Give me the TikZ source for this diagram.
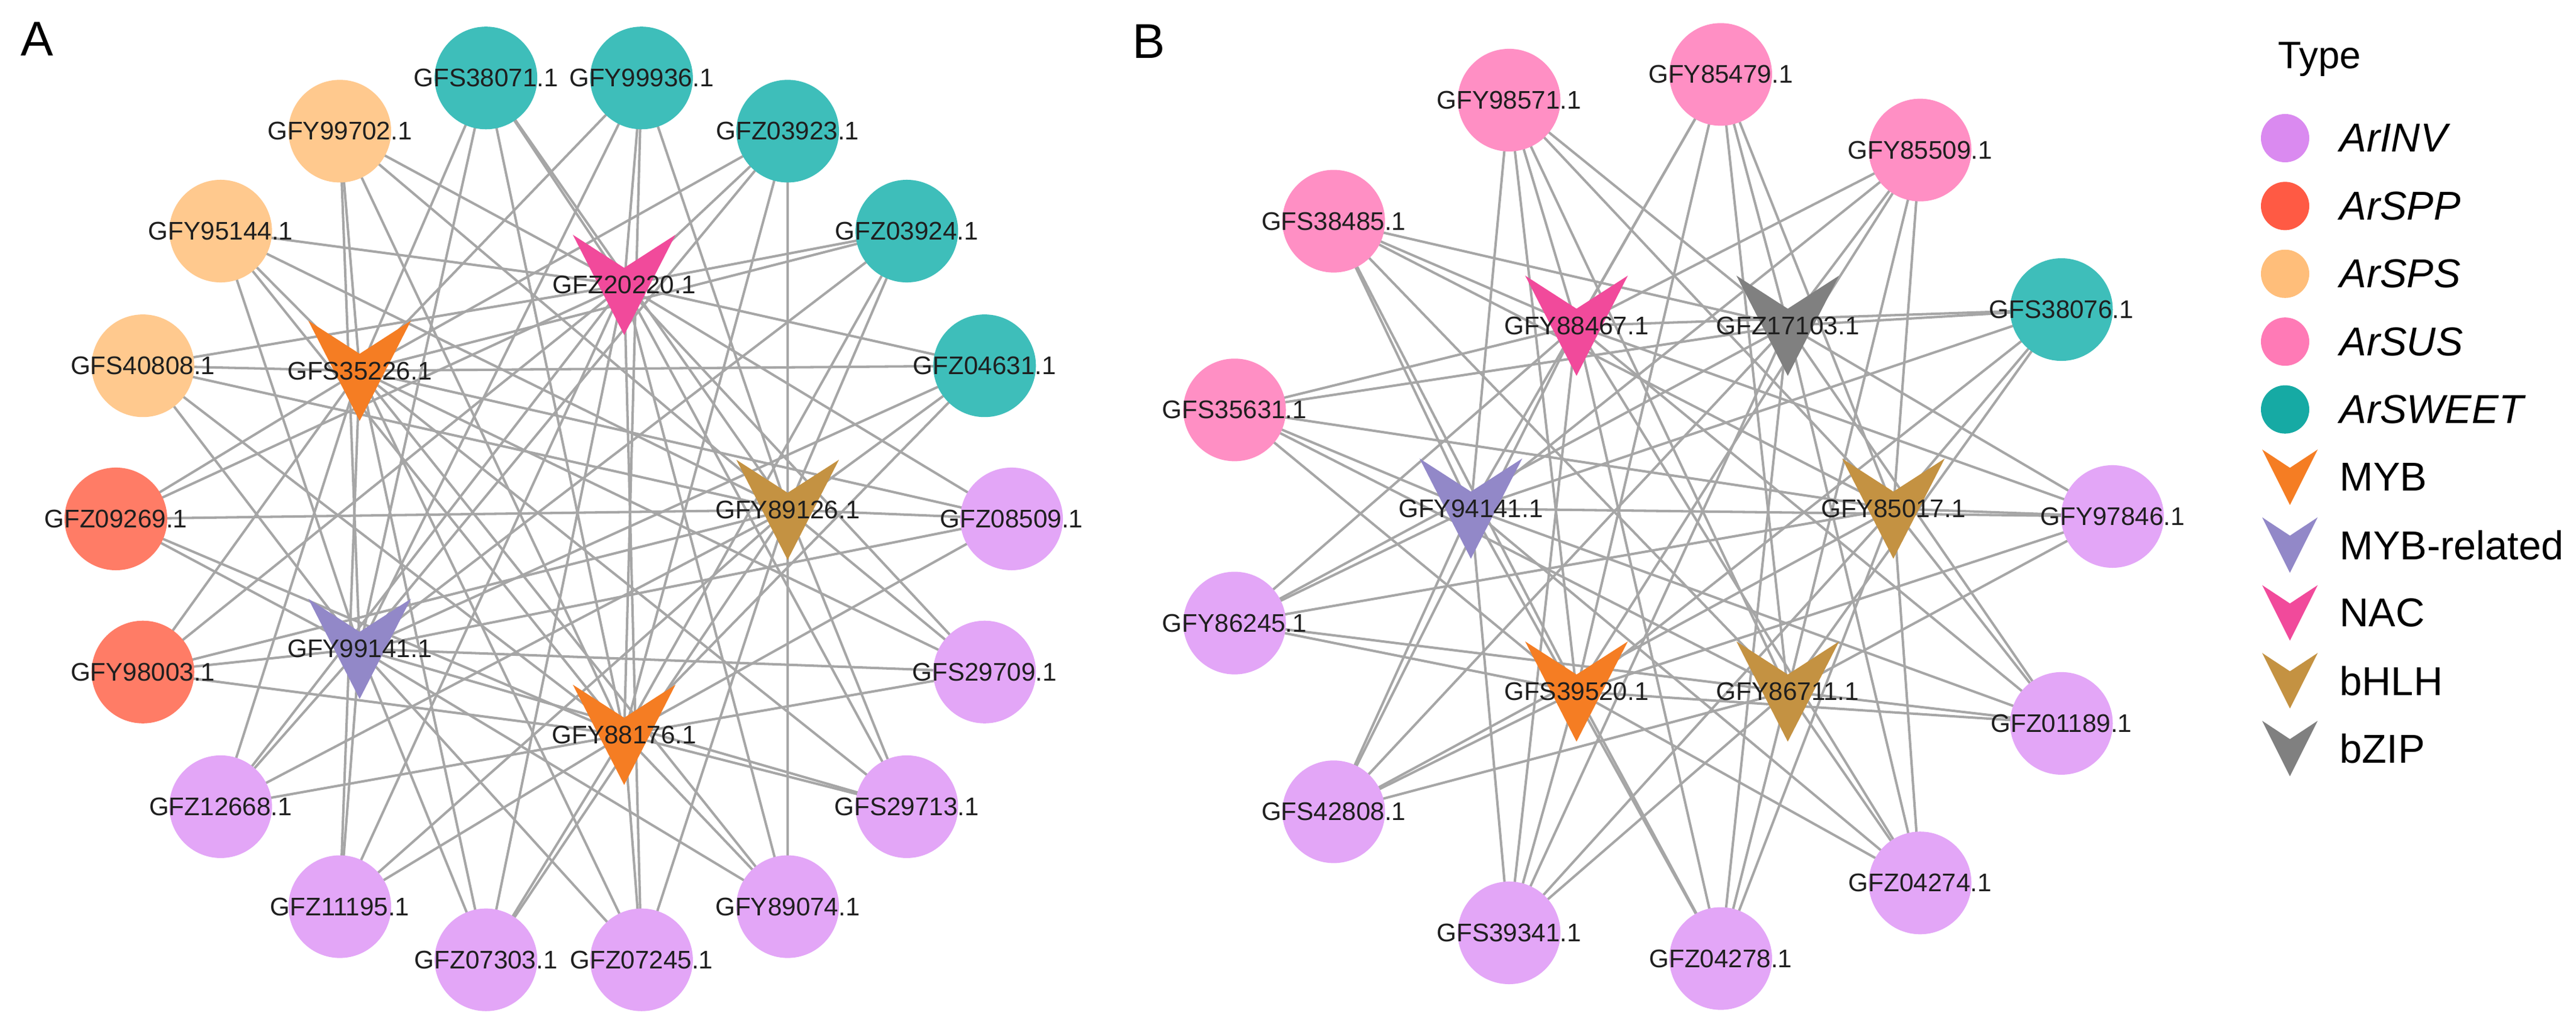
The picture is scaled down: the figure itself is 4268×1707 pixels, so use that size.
\documentclass[tikz,border=0pt]{standalone}
\usepackage{fontspec}
\setmainfont{Liberation Sans}
\usetikzlibrary{positioning}
\usetikzlibrary{calc}
\usetikzlibrary{backgrounds}
\definecolor{inv}{RGB}{227,166,247}
\definecolor{spp}{RGB}{255,124,102}
\definecolor{sps}{RGB}{255,201,142}
\definecolor{sus}{RGB}{255,143,196}
\definecolor{sweet}{RGB}{62,190,186}
\definecolor{invkey}{RGB}{218,138,240}
\definecolor{sppkey}{RGB}{255,90,68}
\definecolor{spskey}{RGB}{255,190,122}
\definecolor{suskey}{RGB}{255,122,182}
\definecolor{sweetkey}{RGB}{22,170,164}
\definecolor{myb}{RGB}{245,125,35}
\definecolor{mybr}{RGB}{146,136,200}
\definecolor{nac}{RGB}{241,74,155}
\definecolor{bhlh}{RGB}{196,146,66}
\definecolor{bzip}{RGB}{128,128,128}
\tikzset{gene/.style = {circle, minimum size = 1.7cm, inner sep = 0pt},
         hub/.style = {minimum width = 1.7cm, minimum height = 1.66cm, inner sep = 0pt,
                       path picture = {\fill [#1] (path picture bounding box.north west)
                         -- ($(path picture bounding box.north)!0.33!(path picture bounding box.south)$)
                         -- (path picture bounding box.north east)
                         -- (path picture bounding box.south) -- cycle;}},
         genename/.style = {font = \fontsize{12}{13}\selectfont, text = black!88},
         wire/.style = {draw = black!35, line width = 1.15pt},
         swatch/.style = {circle, minimum size = 0.8cm, inner sep = 0pt},
         keyhub/.style = {hub = #1, minimum width = 0.92cm, minimum height = 0.92cm},
         keytext/.style = {font = \fontsize{19}{23}\selectfont},
         panellabel/.style = {font = \fontsize{23}{26}\selectfont}}

\begin{document}
\begin{tikzpicture}[x = 0.01cm, y = 0.01cm]
      \useasboundingbox (0, 0) rectangle (4268, 1707);

      % panel A: targets on the outer ring, regulators on the pentagon
      \begin{scope}[shift = {(934, 847)}]
        \foreach \a/\n/\t/\c in {100/a1/GFS38071.1/sweet, 80/a2/GFY99936.1/sweet,
            60/a3/GFZ03923.1/sweet, 40/a4/GFZ03924.1/sweet, 20/a5/GFZ04631.1/sweet,
            0/a6/GFZ08509.1/inv, -20/a7/GFS29709.1/inv, -40/a8/GFS29713.1/inv,
            -60/a9/GFY89074.1/inv, -80/a10/GFZ07245.1/inv, -100/a11/GFZ07303.1/inv,
            -120/a12/GFZ11195.1/inv, -140/a13/GFZ12668.1/inv, -160/a14/GFY98003.1/spp,
            180/a15/GFZ09269.1/spp, 160/a16/GFS40808.1/sps, 140/a17/GFY95144.1/sps,
            120/a18/GFY99702.1/sps}
          \node [gene, fill = \c, label = {[genename] center:\t}] (\n) at (\a:742) {};
      \end{scope}
      \begin{scope}[shift = {(913, 862)}]
        \foreach \a/\n/\t/\c in {0/ha1/GFY89126.1/bhlh, 72/ha2/GFZ20220.1/nac,
            144/ha3/GFS35226.1/myb, 216/ha4/GFY99141.1/mybr, 288/ha5/GFY88176.1/myb}
          \node [hub = \c, label = {[genename] center:\t}] (\n) at (\a:392) {};
      \end{scope}

      % panel B
      \begin{scope}[shift = {(2762, 851)}]
        \foreach \a/\n/\t/\c in {0/b1/GFY97846.1/inv, 27.69/b2/GFS38076.1/sweet,
            55.38/b3/GFY85509.1/sus, 83.08/b4/GFY85479.1/sus, 110.77/b5/GFY98571.1/sus,
            138.46/b6/GFS38485.1/sus, 166.15/b7/GFS35631.1/sus, -166.15/b8/GFY86245.1/inv,
            -138.46/b9/GFS42808.1/inv, -110.77/b10/GFS39341.1/inv, -83.08/b11/GFZ04278.1/inv,
            -55.38/b12/GFZ04274.1/inv, -27.69/b13/GFZ01189.1/inv}
          \node [gene, fill = \c, label = {[genename] center:\t}] (\n) at (\a:738) {};
      \end{scope}
      \begin{scope}[shift = {(2787, 864)}]
        \foreach \a/\n/\t/\c in {0/hb1/GFY85017.1/bhlh, 60/hb2/GFZ17103.1/bzip,
            120/hb3/GFY88467.1/nac, 180/hb4/GFY94141.1/mybr, 240/hb5/GFS39520.1/myb,
            300/hb6/GFY86711.1/bhlh}
          \node [hub = \c, label = {[genename] center:\t}] (\n) at (\a:350) {};
      \end{scope}

      \begin{pgfonlayer}{background}
        \fill [white] (0, 0) rectangle (4268, 1707);
        \foreach \i in {1,...,18}
          \foreach \j in {1,...,5}
            \draw [wire] (a\i.center) -- (ha\j.center);
        \foreach \i in {1,...,13}
          \foreach \j in {1,...,6}
            \draw [wire] (b\i.center) -- (hb\j.center);
      \end{pgfonlayer}

      \node [panellabel] (pa) at (61, 1642) {A};
      \node [panellabel] (pb) at (1903, 1638) {B};

      % legend
      \node [font = \fontsize{18}{22}\selectfont, anchor = west] (type) at (3762, 1609) {Type};
      \foreach \k/\c/\t in {0/invkey/ArINV, 1/sppkey/ArSPP, 2/spskey/ArSPS,
          3/suskey/ArSUS, 4/sweetkey/ArSWEET}
        {\node [swatch, fill = \c] (k\k) at (3786, {1478 - 112.4 * \k}) {};
         \node [keytext, right = 0.78cm of k\k.center] (t\k) {\textit{\t}};}
      \foreach \k/\c/\t in {5/myb/MYB, 6/mybr/MYB-related, 7/nac/NAC,
          8/bhlh/bHLH, 9/bzip/bZIP}
        {\node [keyhub = \c] (k\k) at (3794, {1478 - 112.4 * \k}) {};
         \node [keytext, right = 0.70cm of k\k.center] (t\k) {\t};}

    \end{tikzpicture}
\end{document}
